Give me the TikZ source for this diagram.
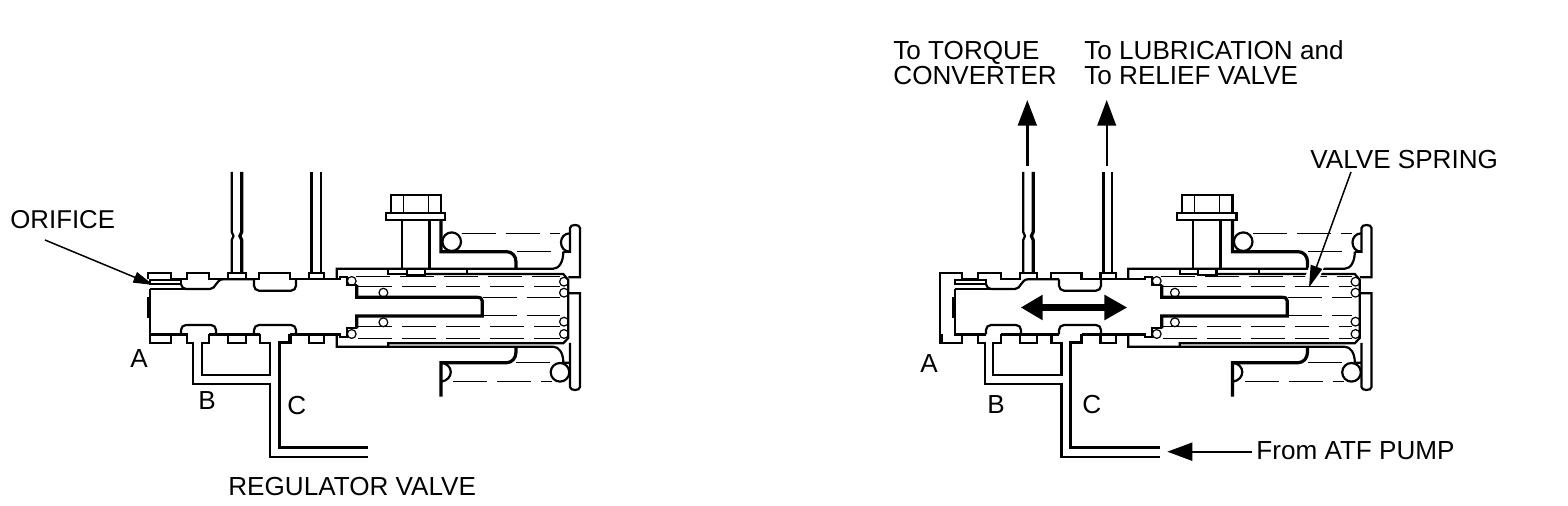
\documentclass[tikz,border=0pt]{standalone}
\usepackage{fontspec}
\setmainfont{Liberation Sans}
\usetikzlibrary{arrows.meta}
\tikzset{
  ln/.style={line width=1.1pt,line join=miter},
  th/.style={line width=1.6pt,line join=miter},
  hair/.style={line width=0.6pt},
  dashy/.style={line width=0.5pt,dash pattern=on 17pt off 5pt},
  lbl/.style={font=\fontsize{13.05}{12.85}\selectfont,anchor=base west,inner sep=0pt,align=left},
  upa/.style={-{Triangle[length=12.8pt,width=9.3pt]}},
  leader/.style={line width=0.75pt,-{Triangle[length=10pt,width=5.5pt]}}
}
\newcommand{\valvebody}[2]{%
\begin{scope}[xshift=#1*0.5pt]
 % upper body outline
 \draw[ln] (148.3,279.3)--(148.3,273.3)--(170.7,273.3)--(170.7,279.3)--(186.7,279.3)--(186.7,273.3)--(209.3,273.3)--(209.3,279.3)--(228.3,279.3)--(228.3,273.3)--(245.7,273.3)--(245.7,279.3)--(259.3,279.3)--(259.3,273.3)--(290,273.3)--(290,279.3)--(309,279.3)--(309,273.3)--(324.3,273.3)--(324.3,279.3)--(336.7,279.3);
 % ports
 \draw[ln] (231.7,172)--(231.7,232)--(233.5,236)--(231.7,240)--(231.7,273.3);
 \draw[th] (241.7,172)--(241.7,232)--(239.9,236)--(241.7,240)--(241.7,273.3);
 \draw[th] (311.7,172)--(311.7,273.3);
 \draw[ln] (320.7,172)--(320.7,273.3);
 % lower body and oil passages
 \draw[ln] (150,334.5)--(150,342.7)--(170.7,342.7)--(170.7,334.5)--(186.7,334.5)--(186.7,342.7)--(193.3,342.7)--(193.3,384)--(270,384)--(270,457.3)--(368,457.3);
 \draw[ln] (209.3,334.5)--(209.3,342.7)--(201.7,342.7)--(201.7,375)--(270,375)--(270,342.7)--(260,342.7)--(260,334.5);
 \draw[ln] (209.3,334.5)--(228.3,334.5)--(228.3,342.7)--(245.7,342.7)--(245.7,334.5)--(260,334.5);
 \draw[th] (290,334.5)--(290,342.7)--(279.3,342.7)--(279.3,447.3)--(368,447.3);
 \draw[ln] (290,334.5)--(309,334.5)--(309,342.7)--(324.3,342.7)--(324.3,334.5)--(336.7,334.5);
 % housing
 \draw[ln] (336.7,279.3)--(336.7,268.7)--(553.3,268.7) .. controls (559,268.7) and (563.3,262) .. (563.3,251.7);
 \draw[ln] (336.7,334.5)--(336.7,346.7)--(553,346.7) .. controls (559,346.7) and (563.3,353) .. (563.3,362.7)--(570,362.7);
 \draw[ln] (388.3,268.7)--(388.3,274)--(406.7,274);
 \draw[ln] (425,274)--(563.3,274)--(568.3,280)--(568.3,338)--(563.3,343.3)--(388.3,343.3)--(388.3,346.7);
 \draw[ln] (467.3,268.7)--(467.3,274);
 % bolt
 \draw[ln] (390.7,213.3)--(390.7,195)--(441,195)--(441,213.3);
 \draw[hair] (403.3,195)--(403.3,213.3) (428.3,195)--(428.3,213.3);
 \draw[ln] (385.7,213.3) rectangle (445,220);
 \draw[ln] (401.7,220)--(401.7,268.7);
 \draw[th] (429.3,220)--(429.3,268.7);
 \draw[ln] (406.7,268.7)--(406.7,275)--(425,275)--(425,268.7);
 % brackets
 \draw[th] (441,220)--(441,251.7)--(506.7,251.7) .. controls (512,251.7) and (516,256) .. (516,262)--(516,268.7);
 \draw[th] (441,396.7)--(441,362.7)--(506.7,362.7) .. controls (512,362.7) and (516,358) .. (516,352)--(516,346.7);
 % plates
 \draw[ln] (568.3,277.2)--(580,277.2)--(580,228) .. controls (580,224) and (570,224) .. (570,228)--(570,251.7)--(563.3,251.7);
 \draw[ln] (568.3,293.3)--(580,293.3)--(580,387) .. controls (580,391) and (570,391) .. (570,387)--(570,343);
 % outer spring
 \draw[ln] (451.7,241.7) circle[radius=9.3];
 \draw[ln] (570,233.3) .. controls (558,233.3) and (558,251.7) .. (570,251.7);
 \draw[ln] (441,362.7) .. controls (454,364) and (454,380) .. (441,381.7);
 \draw[ln] (560,372.3) circle[radius=9.3];
 \draw[dashy] (461.7,233.3)--(560,233.3);
 \draw[dashy] (516.7,251.7)--(560,251.7);
 \draw[dashy] (516,362.7)--(552,362.7);
 \draw[dashy] (453,381.7)--(552,381.7);
 % inner spring
 \draw[dashy] ({356+#2},277)--(560,277);
 \draw[dashy] ({358+#2},286.7)--(560,286.7);
 \draw[dashy] ({482.5+#2},297.3)--(560,297.3);
 \draw[dashy] ({482.5+#2},316)--(560,316);
 \draw[dashy] ({358+#2},326.7)--(560,326.7);
 \draw[dashy] ({358+#2},338.3)--(560,338.3);
 \foreach \yy in {281.7,292.7,321.7,334}{\draw[hair] (564,\yy) circle[radius=4.4];}
 \draw[hair] ({351.7+#2},281) circle[radius=4.4] ({351.7+#2},334) circle[radius=4.4];
 \draw[hair] (383.4,292.7) circle[radius=4.4] (383.4,322.3) circle[radius=4.4];
 % spool
 \begin{scope}[xshift=#2*0.5pt]
  \draw[ln] (150,280) rectangle (181,284.3);
  \draw[ln] (181,284.3) .. controls (182,287) and (183,289) .. (186,289)--(210,289) .. controls (216,289) and (216,279.3) .. (223,279.3)--(254,279.3);
  \draw[ln] (150,289)--(186,289);
  \draw[ln,rounded corners=2.5pt] (254,279.3)--(254,290.7)--(296,290.7)--(296,279.3);
  \draw[ln] (296,279.3)--(340,279.3)--(340,276.7)--(346.7,276.7)--(346.7,285)--(356.7,285);
  \draw[th] (356.7,285)--(356.7,297.3)--(476.7,297.3) .. controls (480,297.3) and (482.3,298) .. (482.3,301)--(482.3,316)--(356.7,316)--(356.7,328.3);
  \draw[ln] (356.7,328.3)--(346.7,328.3)--(346.7,336.7)--(340,336.7)--(340,334.5)--(296,334.5);
  \draw[ln] (150,289)--(150,334.5)--(181,334.5);
  \draw[th] (148.7,297)--(148.7,318);
  \draw[ln,rounded corners=2.5pt] (181,334.5)--(181,325)--(216,325)--(216,334.5);
  \draw[ln] (216,334.5)--(254,334.5);
  \draw[ln,rounded corners=2.5pt] (254,334.5)--(254,325)--(296,325)--(296,334.5);
 \end{scope}
\end{scope}}
\begin{document}
\begin{tikzpicture}[x=0.5pt,y=-0.5pt]
\useasboundingbox (0,0) rectangle (1568,506);
\fill[white] (0,0) rectangle (1568,506);
% left valve
\valvebody{0}{0}
% right valve
\valvebody{791.5}{13.5}
\draw[ln] (939.8,273.3)--(939.8,342.7)--(941.5,342.7);
% labels, left
\node[lbl,font=\fontsize{12.9}{12.85}\selectfont] (orifice) at (10,228.5) {ORIFICE};
\node[lbl] (aL) at (130,368) {A};
\node[lbl] (bL) at (198,410) {B};
\node[lbl] (cL) at (287,415) {C};
\node[lbl] (reg) at (228,496) {REGULATOR VALVE};
% labels, right
\node[lbl] (conv) at (893,85) {To TORQUE\\CONVERTER};
\node[lbl] (lub) at (1084,85) {To LUBRICATION and\\To RELIEF VALVE};
\node[lbl] (spring) at (1310,168.5) {VALVE SPRING};
\node[lbl] (aR) at (920,373) {A};
\node[lbl] (bR) at (987,414) {B};
\node[lbl] (cR) at (1082,414) {C};
\node[lbl] (atf) at (1256,459.5) {From ATF PUMP};
% leaders and arrows
\coordinate (oS) at (45,240);
\coordinate (oT) at (153.3,285);
\draw[leader] (oS)--(oT);
\coordinate (vS) at (1351,172);
\coordinate (vT) at (1309,287.5);
\coordinate (vH) at (1321,255);
\draw[white,line width=7pt] (vH)--(1311.5,280);
\draw[leader,-{Triangle[length=11pt,width=6pt]}] (vS)--(vT);
\coordinate (a1S) at (1027.3,166);
\coordinate (a1T) at (1027.3,100);
\draw[upa,line width=1.5pt] (a1S)--(a1T);
\coordinate (a2S) at (1106.7,166);
\coordinate (a2T) at (1106.7,100);
\draw[upa,line width=1pt] (a2S)--(a2T);
\coordinate (dL) at (1020.7,307.5);
\coordinate (dR) at (1127.3,307.5);
\draw[line width=3.3pt,{Triangle[length=11pt,width=12pt]}-{Triangle[length=11.5pt,width=12pt]}] (dL)--(dR);
\coordinate (pT) at (1167.3,451.7);
\draw[line width=1pt,-{Triangle[length=12.5pt,width=9pt]}] (atf.base west |- pT) ++(-4,0) -- (pT);
\end{tikzpicture}
\end{document}
